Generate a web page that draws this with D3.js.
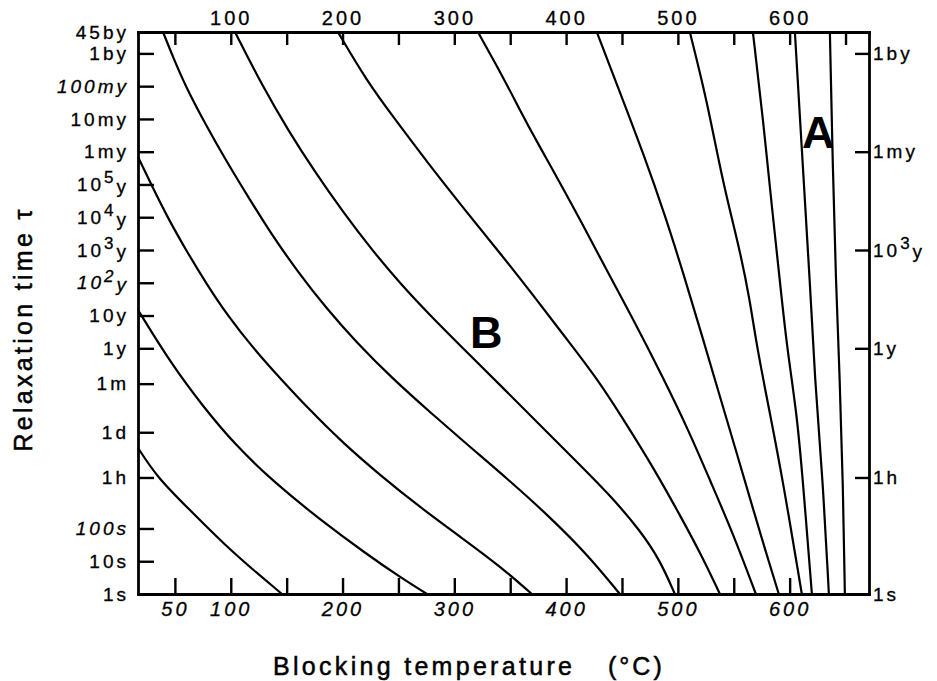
<!DOCTYPE html>
<html>
<head>
<meta charset="utf-8">
<script src="https://cdn.jsdelivr.net/npm/d3@7"></script>
<style>
	body { margin: 0; background: #fff; }
	text { font-family: "Liberation Sans", Arial, Helvetica, sans-serif; fill: #000; }
</style>
</head>
<body>
<div id="viz-container"></div>
<script>
var YEAR = 3.15576e7; // seconds

// relaxation time axis (values in seconds)
var leftTickValues = [4.5e9 * YEAR, 1e9 * YEAR, 1e8 * YEAR, 1e7 * YEAR, 1e6 * YEAR, 1e5 * YEAR, 1e4 * YEAR,
	1e3 * YEAR, 1e2 * YEAR, 10 * YEAR, YEAR, YEAR / 12, 86400, 3600, 100, 10, 1];
var leftTickLabels = ["45by", "1by", "100my", "10my", "1my", "10^5y", "10^4y", "10^3y", "10^2y",
	"10y", "1y", "1m", "1d", "1h", "100s", "10s", "1s"];
var rightTickValues = [1e9 * YEAR, 1e6 * YEAR, 1e3 * YEAR, YEAR, 3600, 1];
var rightTickLabels = ["1by", "1my", "10^3y", "1y", "1h", "1s"];
var italicLabels = ["100my", "10^2y", "100s"];

// blocking temperature axis (deg C)
var topTicks = [50, 100, 150, 200, 250, 300, 350, 400, 450, 500, 550, 600, 650];
var topLabels = [100, 200, 300, 400, 500, 600];
var bottomTicks = [50, 100, 150, 200, 250, 300, 350, 400, 450, 500, 550, 600];
var bottomLabels = [50, 100, 200, 300, 400, 500, 600];

// curves: [temperature C, log10 relaxation time (s)]
var curve1 = [[17, 4.46], [34, 3.57], [60.8, 2.65], [96.6, 1.43], [123.4, 0.64], [145.8, 0]];
var curve2 = [[17, 8.67], [47.4, 6.99], [74.2, 5.77], [103.8, 4.55], [139.5, 3.39], [178, 2.32], [222.6, 1.19], [251.3, 0.52], [275.5, 0]];
var curve3 = [[17, 13.34], [29.5, 12.45], [43.8, 11.47], [59.9, 10.5], [77.8, 9.49], [97.5, 8.48], [119.9, 7.51], [144, 6.59],
	[170.8, 5.61], [200.4, 4.61], [233.5, 3.63], [269.2, 2.65], [306.8, 1.71], [340.8, 0.85], [369.4, 0]];
var curve4 = [[39.4, 17.15], [48.3, 16.39], [59.9, 15.47], [77.8, 14.31], [96.6, 13.18], [116.3, 12.08], [136.9, 10.95], [160.1, 9.83],
	[185.2, 8.73], [212.9, 7.66], [244.2, 6.59], [278.2, 5.55], [314, 4.49], [349.7, 3.45], [385.5, 2.35], [419.5, 1.19], [448.1, 0]];
var curve5 = [[103.8, 17.15], [127.9, 15.53], [151.2, 14.16], [175.3, 12.88], [200.4, 11.66], [226.3, 10.5], [251.3, 9.49], [278.2, 8.51],
	[312.2, 7.35], [345.3, 6.23], [376.6, 5.16], [407.9, 4.09], [439.2, 3.02], [466, 1.95], [483.9, 1.04], [497.3, 0]];
var curve6 = [[195.9, 17.15], [221.8, 15.65], [246.9, 14.49], [276.4, 13.15], [309.5, 11.72], [340.8, 10.41], [371.2, 9.09],
	[399.8, 7.81], [427.5, 6.59], [454.4, 5.16], [479.4, 3.78], [501.8, 2.41], [521.5, 1.16], [537.6, 0]];
var curve7 = [[321.1, 17.15], [342.6, 15.84], [358.7, 14.77], [372.1, 13.91], [403.4, 12.02], [441, 9.58], [457.1, 8.57],
	[486.6, 6.62], [510.7, 4.91], [528.6, 3.48], [549.2, 1.86], [569.8, 0]];
var curve8 = [[427.5, 17.15], [448.1, 15.32], [469.6, 13.4], [488.4, 11.57], [505.4, 9.73], [521.5, 7.9], [536.7, 6.13],
	[551.9, 4.39], [566.2, 2.72], [578.7, 1.28], [590.3, 0]];
var curve9 = [[510.7, 17.15], [526, 15.07], [540.3, 12.54], [555.5, 10.5], [564.4, 8.97], [570.7, 7.54], [582.3, 5.52], [593.9, 3.48], [610.9, 0]];
var curve10 = [[567.1, 17.15], [576, 14.56], [585, 11.51], [591.2, 9.58], [597.5, 7.54], [606.4, 5.52], [611.8, 3.48], [619.9, 0]];
var curve11 = [[604.7, 17.15], [611.8, 13.03], [618.1, 9.58], [622.5, 6.53], [629.7, 3.48], [635.1, 0]];
var curve12 = [[636, 17.15], [638.6, 13.03], [641.3, 9.58], [644.9, 6.53], [647.6, 3.48], [649.4, 0]];

var curves = [curve1, curve2, curve3, curve4, curve5, curve6, curve7, curve8, curve9, curve10, curve11, curve12];

// region labels
var regionLabels = ["A", "B"];
var regionTemps = [611, 314];
var regionLogTau = [13.6, 7.5];

function init() {
	var svg = d3.select('#viz-container').append('svg')
		.attr('width', 937)
		.attr('height', 681)
		.style('background', '#fff');

	var x = d3.scaleLinear()
		.domain([17, 671])
		.range([138, 869]);

	var y = d3.scaleLog()
		.domain([1, 4.5e9 * YEAR])
		.range([594, 32]);

	var line = d3.line()
		.x(function(d) { return x(d[0]); })
		.y(function(d) { return y(Math.pow(10, d[1])); })
		.curve(d3.curveBasis); // smooths out reading noise

	svg.append('g').selectAll('path')
		.data(curves)
		.enter().append('path')
		.attr('d', line)
		.attr('fill', 'none')
		.attr('stroke', '#000')
		.attr('stroke-width', 2.2);

	// axes
	var left = svg.append('g')
		.attr('transform', 'translate(' + x.range()[0] + ',0)')
		.call(d3.axisLeft(y).tickValues(leftTickValues).tickSize(-16).tickSizeOuter(0).tickPadding(9)
			.tickFormat(function(d, i) { return leftTickLabels[i]; }));

	var right = svg.append('g')
		.attr('transform', 'translate(' + x.range()[1] + ',0)')
		.call(d3.axisRight(y).tickValues(rightTickValues).tickSize(-14).tickSizeOuter(0).tickPadding(4)
			.tickFormat(function(d, i) { return rightTickLabels[i]; }));

	var top = svg.append('g')
		.attr('transform', 'translate(0,' + y.range()[1] + ')')
		.call(d3.axisTop(x).tickValues(topTicks).tickSize(-13).tickSizeOuter(0).tickPadding(7)
			.tickFormat(function(d) { return topLabels.indexOf(d) >= 0 ? d : ''; }));

	var bottom = svg.append('g')
		.attr('transform', 'translate(0,' + y.range()[0] + ')')
		.call(d3.axisBottom(x).tickValues(bottomTicks).tickSize(-16).tickSizeOuter(0).tickPadding(8)
			.tickFormat(function(d) { return bottomLabels.indexOf(d) >= 0 ? d : ''; }));

	[left, right, top, bottom].forEach(function(g) {
		g.attr('font-size', null).attr('font-family', null);
		g.select('.domain').attr('stroke-width', 2.8).attr('stroke-linecap', 'square');
		g.selectAll('.tick line').attr('stroke-width', 2.4);
		g.selectAll('.tick text')
			.style('font-size', '19px')
			.style('letter-spacing', '3px')
			.style('stroke', '#000')
			.style('stroke-width', 0.3);
	});

	bottom.selectAll('.tick text').style('font-size', '20px').style('font-style', 'italic');
	top.selectAll('.tick text').style('font-size', '20px');

	// superscripts like 10^5y
	[left, right].forEach(function(g) {
		g.selectAll('.tick text').each(function() {
			var t = d3.select(this);
			var s = t.text();
			if (italicLabels.indexOf(s) >= 0) t.style('font-style', 'italic');
			if (s.indexOf('^') < 0) return;
			var base = s.slice(0, s.indexOf('^'));
			var sup = s.charAt(s.indexOf('^') + 1);
			var rest = s.slice(s.indexOf('^') + 2);
			t.text(null);
			t.append('tspan').text(base);
			t.append('tspan').attr('dy', '-0.45em').style('font-size', '17px').text(sup);
			t.append('tspan').attr('dy', '0.5em').text(rest);
		});
	});

	// region labels A, B
	svg.append('g').selectAll('text')
		.data(regionLabels)
		.enter().append('text')
		.attr('x', function(d, i) { return x(regionTemps[i]); })
		.attr('y', function(d, i) { return y(Math.pow(10, regionLogTau[i])); })
		.style('font-size', '45px')
		.style('font-weight', 'bold')
		.text(function(d) { return d; });

	// axis titles
	svg.append('text')
		.attr('transform', 'translate(32,329) rotate(-90)')
		.attr('text-anchor', 'middle')
		.style('font-size', '25px')
		.style('letter-spacing', '3.3px')
		.style('stroke', '#000')
		.style('stroke-width', 0.5)
		.text('Relaxation time \u03c4');

	svg.append('text')
		.attr('x', 273)
		.attr('y', 675)
		.style('font-size', '25px')
		.style('letter-spacing', '3.3px')
		.style('stroke', '#000')
		.style('stroke-width', 0.5)
		.text('Blocking temperature');

	svg.append('text')
		.attr('x', 608)
		.attr('y', 675)
		.style('font-size', '25px')
		.style('letter-spacing', '3px')
		.style('stroke', '#000')
		.style('stroke-width', 0.5)
		.text('(\u00b0C)');
}

init();
</script>
</body>
</html>
